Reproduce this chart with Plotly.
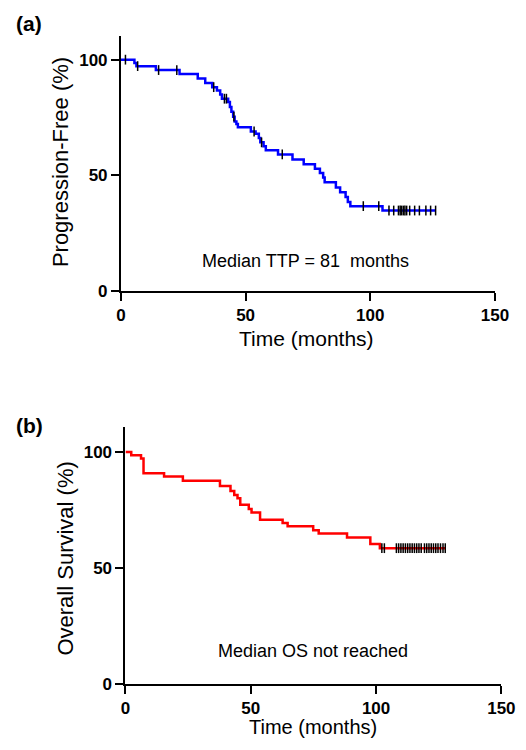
import plotly.graph_objects as go

# ---- Panel (a): progression-free (step times in months, level in %) ----
pfs_time = [0, 5.4, 6.2, 14.0, 23.5, 30.8, 33.8, 36.6, 38.5, 39.8, 40.5, 43.0, 43.7,
            44.3, 45.0, 45.6, 46.3, 46.9, 52.1, 54.0, 55.3, 55.9, 57.2, 58.1, 63.0,
            68.8, 73.3, 77.8, 79.8, 81.1, 81.7, 86.2, 87.9, 90.1, 91.0, 92.0, 104.9, 126.2]
pfs_surv = [100, 98.6, 97.2, 95.5, 93.75, 91.8, 89.9, 88.1, 86.6, 84.9, 83.1, 81.7, 79.5,
            77.4, 75.3, 73.2, 72.2, 70.7, 68.9, 67.9, 66.1, 64.2, 62.5, 60.8, 59.0,
            56.8, 54.7, 52.8, 50.9, 49.0, 46.9, 44.7, 42.6, 40.5, 38.4, 36.6, 34.7, 34.7]
pfs_cens_time = [1.8, 6.7, 15.1, 22.4, 37.2, 41.5, 42.3, 45.3, 53.4, 56.4, 64.7, 97.2, 103.4,
                 107.5, 109.4, 111.3, 112.0, 112.6, 113.3, 113.9, 114.6, 115.8, 117.8,
                 119.7, 122.3, 124.2, 126.2]
pfs_cens_surv = [100, 97.2, 95.5, 95.5, 88.1, 83.1, 83.1, 75.3, 68.9, 64.2, 59.0, 36.6, 36.6,
                 34.7, 34.7, 34.7, 34.7, 34.7, 34.7, 34.7, 34.7, 34.7, 34.7,
                 34.7, 34.7, 34.7, 34.7]

# ---- Panel (b): overall survival ----
os_time = [0, 2.3, 6.2, 7.2, 15.4, 22.9, 37.7, 41.9, 43.4, 44.7, 45.8, 49.2, 50.3, 53.7,
           62.7, 64.7, 74.9, 77.1, 88.4, 97.7, 101.5, 127.6]
os_surv = [100, 98.6, 97.2, 90.8, 89.4, 87.6, 85.3, 83.1, 81.4, 80.0, 77.2, 75.4, 73.9, 70.8,
           69.4, 67.9, 66.2, 64.8, 63.1, 60.3, 58.5, 58.5]
os_cens_time = [102.3, 103.3, 108.1, 109.0, 109.9, 110.8, 111.7, 112.6, 113.5, 114.4, 115.3,
                116.2, 117.1, 118.0, 119.3, 120.2, 121.1, 122.0, 122.9, 123.8, 124.7,
                125.7, 126.7, 127.6]
os_cens_surv = [58.5] * len(os_cens_time)

x_ticks = [0, 50, 100, 150]
y_ticks = [0, 50, 100]

W, H = 526, 750
fig = go.Figure()

fig.add_trace(go.Scatter(x=pfs_time, y=pfs_surv, mode="lines", line_shape="hv",
                         line=dict(color="#0000ff", width=2.5), xaxis="x", yaxis="y",
                         showlegend=False, hoverinfo="skip"))
fig.add_trace(go.Scatter(x=pfs_cens_time, y=pfs_cens_surv, mode="markers",
                         marker=dict(symbol="line-ns", size=7, line=dict(color="black", width=1.5)),
                         xaxis="x", yaxis="y", showlegend=False, cliponaxis=False))
fig.add_trace(go.Scatter(x=os_time, y=os_surv, mode="lines", line_shape="hv",
                         line=dict(color="#ff0000", width=2.5), xaxis="x2", yaxis="y2",
                         showlegend=False, hoverinfo="skip"))
fig.add_trace(go.Scatter(x=os_cens_time, y=os_cens_surv, mode="markers",
                         marker=dict(symbol="line-ns", size=7, line=dict(color="black", width=1.5)),
                         xaxis="x2", yaxis="y2", showlegend=False, cliponaxis=False))

tickfont = dict(family="Arial, Liberation Sans", size=17, color="black", weight="bold")
axis_common = dict(showline=True, linecolor="black", linewidth=2, ticks="outside",
                   ticklen=8, tickwidth=2, tickcolor="black", showgrid=False,
                   zeroline=False, tickfont=tickfont, fixedrange=True)

fig.update_layout(
    width=W, height=H, margin=dict(l=0, r=0, t=0, b=0),
    paper_bgcolor="white", plot_bgcolor="white",
    xaxis=dict(domain=[112 / W, 500 / W], range=[0, 150], tickvals=x_ticks,
               anchor="y", **axis_common),
    yaxis=dict(domain=[1 - 286.5 / H, 1 - 28 / H], range=[0, 110.4], tickvals=y_ticks,
               anchor="x", **axis_common),
    xaxis2=dict(domain=[116.7 / W, 506.7 / W], range=[0, 150], tickvals=x_ticks,
                anchor="y2", **axis_common),
    yaxis2=dict(domain=[1 - 685 / H, 1 - 425 / H], range=[0, 110.6], tickvals=y_ticks,
                anchor="x2", **axis_common),
)

font = "Arial, Liberation Sans"
C = dict(xanchor="center", yanchor="middle", showarrow=False)
ann = []
ann.append(dict(text="(a)", x=17 / W, y=1 - 16 / H, xref="paper", yref="paper",
                font=dict(family=font, size=21, color="black", weight="bold"), **C))
ann.append(dict(text="(b)", x=17 / W, y=1 - 423 / H, xref="paper", yref="paper",
                font=dict(family=font, size=21, color="black", weight="bold"), **C))
ann.append(dict(text="Progression-Free (%)", x=50 / W, y=1 - 156 / H, xref="paper", yref="paper",
                textangle=-90, font=dict(family=font, size=22, color="black"), **C))
ann.append(dict(text="Overall Survival (%)", x=55 / W, y=1 - 558 / H, xref="paper", yref="paper",
                textangle=-90, font=dict(family=font, size=22, color="black"), **C))
ann.append(dict(text="Time (months)", x=304 / W, y=1 - 335 / H, xref="paper", yref="paper",
                font=dict(family=font, size=21, color="black"), **C))
ann.append(dict(text="Time (months)", x=311 / W, y=1 - 729 / H, xref="paper", yref="paper",
                font=dict(family=font, size=20, color="black"), **C))
ann.append(dict(text="Median TTP = 81  months", x=74, y=13, xref="x", yref="y",
                font=dict(family=font, size=18, color="black"), **C))
ann.append(dict(text="Median OS not reached", x=75, y=14, xref="x2", yref="y2",
                font=dict(family=font, size=18, color="black"), **C))
fig.update_layout(annotations=ann)

fig.write_html("out.html")
